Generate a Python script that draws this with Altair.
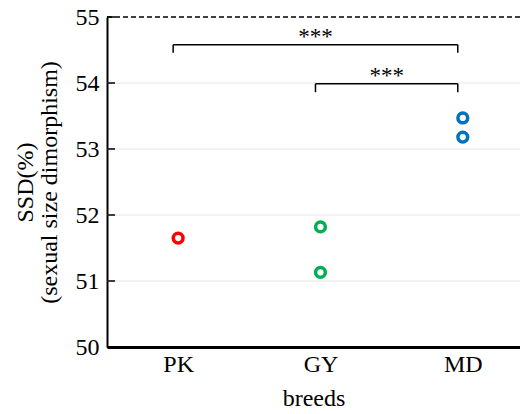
import altair as alt
import pandas as pd

# ---- data ----
categories = ["PK", "GY", "MD"]
colors = ["#FF0000", "#00B050", "#0070C0"]
pk_values = [51.65]
gy_values = [51.82, 51.13]
md_values = [53.47, 53.18]

y_ticks = [50, 51, 52, 53, 54, 55]
grid_values = [51, 52, 53, 54]
top_value = 55

comp_start = ["PK", "GY"]
comp_end = ["MD", "MD"]
comp_top = [54.58, 53.99]
comp_tip = [54.46, 53.86]
comp_label = ["***", "***"]

# ---- tables ----
rows = []
for cat, vals in zip(categories, [pk_values, gy_values, md_values]):
    for v in vals:
        rows.append({"breed": cat, "x": categories.index(cat), "ssd": v})
points = pd.DataFrame(rows)

brackets = pd.DataFrame({
    "x": [categories.index(c) for c in comp_start],
    "x2": [categories.index(c) for c in comp_end],
    "ssd": comp_top,
    "tip": comp_tip,
    "label": comp_label,
})
brackets["mid"] = (brackets["x"] + brackets["x2"]) / 2

tips = pd.DataFrame(
    [{"x": r.x, "ssd": r.ssd, "tip": r.tip} for r in brackets.itertuples()]
    + [{"x": r.x2, "ssd": r.ssd, "tip": r.tip} for r in brackets.itertuples()]
)

grid = pd.DataFrame({"ssd": grid_values})
ticks = pd.DataFrame({"ssd": y_ticks})
top = pd.DataFrame({"ssd": [top_value]})

FONT = "Liberation Serif"
W, H = 413, 330

xscale = alt.Scale(domain=[-0.5, 2.402], nice=False, zero=False)
yscale = alt.Scale(domain=[50, 55], nice=False, zero=False)

label_expr = "[" + ",".join(f"'{c}'" for c in categories) + "][datum.value]"
xaxis = alt.Axis(
    values=[0, 1, 2], labelExpr=label_expr, title="breeds", grid=False,
    ticks=False, domainColor="black", domainWidth=3,
    labelFont=FONT, labelFontSize=24, labelColor="black", labelPadding=5,
    titleFont=FONT, titleFontSize=24, titleFontWeight="normal",
    titleColor="black", titlePadding=10,
)
yaxis = alt.Axis(
    values=y_ticks, format="d", title=["SSD(%)", "(sexual size dimorphism)"],
    grid=False, ticks=False, domainColor="black", domainWidth=2,
    labelFont=FONT, labelFontSize=24, labelColor="black", labelPadding=8,
    titleFont=FONT, titleFontSize=24, titleFontWeight="normal",
    titleColor="black", titlePadding=14, titleLineHeight=24,
)

X = alt.X("x:Q", scale=xscale, axis=xaxis)
Y = alt.Y("ssd:Q", scale=yscale, axis=yaxis)

grid_layer = alt.Chart(grid).mark_rule(color="#e6e6e6", strokeWidth=1).encode(
    y=Y, x=alt.value(0), x2=alt.value(W)
)
tick_layer = alt.Chart(ticks).mark_rule(color="black", strokeWidth=1.5).encode(
    y=Y, x=alt.value(0), x2=alt.value(8)
)
top_layer = alt.Chart(top).mark_rule(
    color="black", strokeWidth=1.5, strokeDash=[5, 3]
).encode(y=Y, x=alt.value(0), x2=alt.value(W))

hbar = alt.Chart(brackets).mark_rule(
    color="black", strokeWidth=1.5, xOffset=-5, x2Offset=-5
).encode(x=X, x2="x2:Q", y=Y)
vbar = alt.Chart(tips).mark_rule(
    color="black", strokeWidth=1.5, xOffset=-5
).encode(x=X, y=Y, y2="tip:Q")
stars = alt.Chart(brackets).mark_text(
    font=FONT, fontSize=23, color="black", baseline="alphabetic",
    align="center", dx=-5, dy=-1
).encode(x=alt.X("mid:Q", scale=xscale, axis=xaxis), y=Y, text="label:N")

pts = alt.Chart(points).mark_point(
    shape="circle", filled=False, size=95, strokeWidth=3.5, opacity=1
).encode(
    x=X, y=Y,
    color=alt.Color("breed:N", scale=alt.Scale(domain=categories, range=colors), legend=None),
)

chart = alt.layer(grid_layer, top_layer, tick_layer, hbar, vbar, stars, pts).properties(
    width=W, height=H,
    autosize=alt.AutoSizeParams(type="none"),
    padding={"left": 99, "top": 9, "right": 0, "bottom": 64},
    background="white",
).configure_view(strokeWidth=0)

chart.save("out.html", embed_options={"renderer": "svg", "actions": False})
